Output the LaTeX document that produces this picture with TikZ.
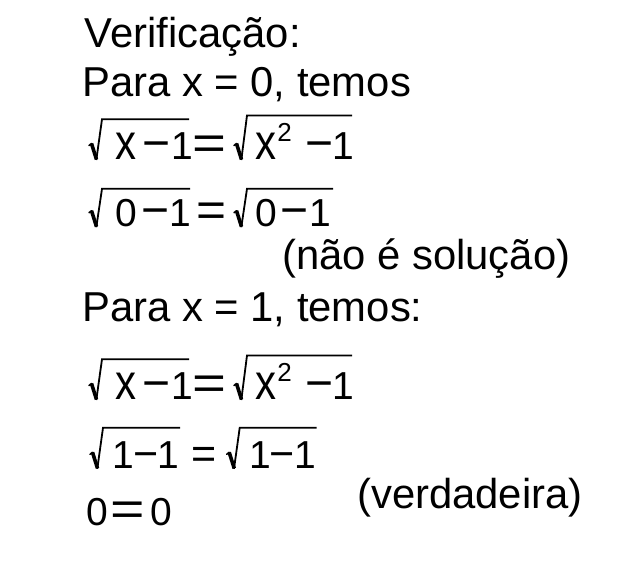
\documentclass[tikz,border=0pt]{standalone}
\usepackage{fontspec}
\usepackage{graphicx}
\setmainfont{Liberation Sans}
\newcommand{\myrad}[4]{%
  \draw[line width=1.5pt, line cap=round] (#1,#2-14) -- (#1+2.5,#2-16);
  \draw[line width=3.6pt] (#1+2.5,#2-16) -- (#1+7.5,#2);
  \draw[line width=1.8pt, line join=miter] (#1+7.3,#2+0.5) -- (#1+13,#3) -- (#4,#3);}
\newcommand{\weq}[1]{\scalebox{#1}[1]{=}}
\newcommand{\mm}{\makebox[0.5em][l]{−}}
\newcommand{\vxx}{\scalebox{0.84}[1]{x}}
\begin{document}
\begin{tikzpicture}[x=1pt,y=-1pt,
  txt/.style={inner sep=0pt, anchor=base west, font=\fontsize{41.8}{41.8}\selectfont},
  dg/.style={inner sep=0pt, anchor=base west, font=\fontsize{39}{39}\selectfont},
  op/.style={inner sep=0pt, anchor=base west, font=\fontsize{48}{48}\selectfont},
  opb/.style={inner sep=0pt, anchor=base west, font=\fontsize{43}{43}\selectfont},
  vx/.style={inner sep=0pt, anchor=base west, font=\fontsize{50}{50}\selectfont},
  sp/.style={inner sep=0pt, anchor=base west, font=\fontsize{26}{26}\selectfont}]
\useasboundingbox[fill=white] (0,0) rectangle (629,575);
% text lines
\node[txt] (t1) at (84.5,48) {Verificação:};
\node[txt] (t2) at (82,97) {Para x = 0, temos};
\node[txt] (t3) at (282,269) {(não é solução)};
\node[txt] (t4) at (82,321.5) {Para x = 1, temos:};
\node[txt] (t5) at (357,508) {(verdadeira)};
% line 3
\myrad{89}{159.5}{119.3}{189}
\node[vx] (a1x) at (115.5,159.5) {\vxx};
\node[op] (a1m) at (142.3,159.5) {\mm};
\node[dg] (a1o) at (170.8,159.5) {1};
\node[op] (a1e) at (192.2,159.5) {\weq{1.21}};
\myrad{234}{159.5}{115.5}{352}
\node[vx] (a2x) at (254.8,159.5) {\vxx};
\node[sp] (a2s) at (277.2,141.7) {2};
\node[op] (a2m) at (305.3,159.5) {\mm};
\node[dg] (a2o) at (332.5,159.5) {1};
% line 4
\myrad{89}{226.7}{188.8}{190}
\node[dg] (b1z) at (115.1,226.7) {0};
\node[op] (b1m) at (141,226.7) {\mm};
\node[dg] (b1o) at (169.6,226.7) {1};
\node[op] (b1e) at (195.8,226.7) {\weq{1.07}};
\myrad{234}{226.7}{188.8}{333}
\node[dg] (b2z) at (255.1,226.7) {0};
\node[op] (b2m) at (280.3,226.7) {\mm};
\node[dg] (b2o) at (309,226.7) {1};
% line A
\myrad{89}{399.5}{359.3}{189}
\node[vx] (c1x) at (115.5,399.5) {\vxx};
\node[op] (c1m) at (142.3,399.5) {\mm};
\node[dg] (c1o) at (170.8,399.5) {1};
\node[op] (c1e) at (192.2,399.5) {\weq{1.21}};
\myrad{234}{399.5}{355.5}{352}
\node[vx] (c2x) at (254.8,399.5) {\vxx};
\node[sp] (c2s) at (277.2,381.7) {2};
\node[op] (c2m) at (305.3,399.5) {\mm};
\node[dg] (c2o) at (332.5,399.5) {1};
% line B
\myrad{90}{468.3}{427.8}{180}
\node[dg] (d1o) at (112.5,468.3) {1};
\node[opb] (d1m) at (133.5,468.3) {\mm};
\node[dg] (d1p) at (157.5,468.3) {1};
\node[opb] (d1e) at (191.2,468.3) {=};
\myrad{226.7}{468.3}{427.8}{316.7}
\node[dg] (d2o) at (249.1,468.3) {1};
\node[opb] (d2m) at (269.2,468.3) {\mm};
\node[dg] (d2p) at (294.1,468.3) {1};
% line C
\node[dg] (e1) at (86.4,525) {0};
\node[op] (e2) at (110.1,525) {\weq{1.23}};
\node[dg] (e3) at (150.1,525) {0};
\end{tikzpicture}
\end{document}
